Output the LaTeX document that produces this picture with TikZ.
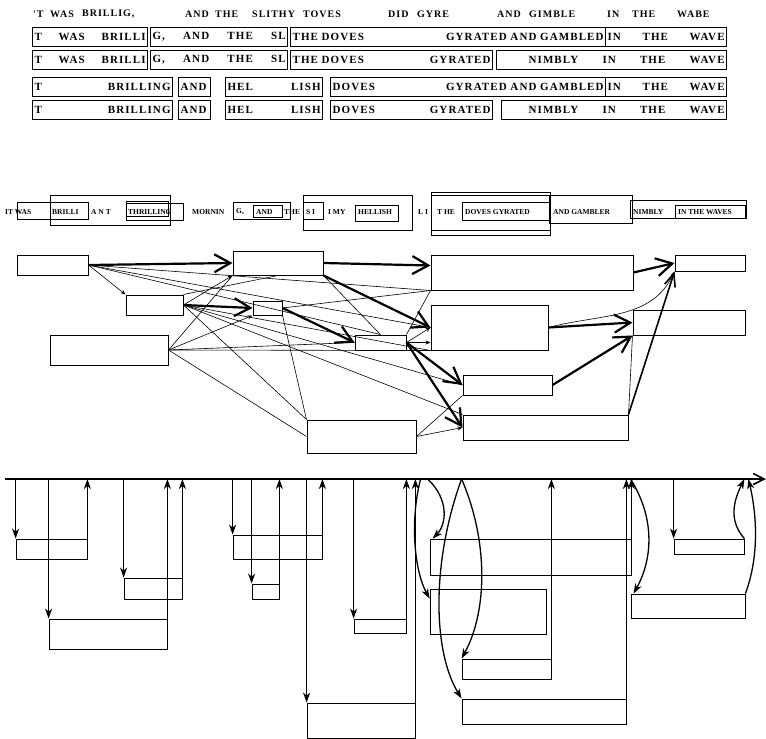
\documentclass[tikz,border=0pt]{standalone}
\usepackage{fontspec}
\setmainfont{Liberation Serif}
\newfontfamily\jabfont[LetterSpace=10]{Liberation Serif}
\usetikzlibrary{arrows.meta, fit}

\begin{document}
\begin{tikzpicture}[x=1pt, y=-1pt,
    jab/.style={font=\jabfont\bfseries\fontsize{10}{12}\selectfont, inner sep=0pt, anchor=west},
    wbox/.style={draw, line width=1.2pt, anchor=west, align=left, minimum height=19pt,
      inner xsep=2pt, inner ysep=0pt, font=\jabfont\bfseries\fontsize{11}{12}\selectfont},
    small/.style={font=\bfseries\fontsize{7.5}{8}\selectfont, inner sep=0pt, anchor=west},
    bbox/.style={draw, line width=0.8pt, inner sep=0pt},
    gbox/.style={draw, line width=1pt, inner sep=0pt},
    thk/.style={line width=2.2pt, -{Straight Barb[length=16pt, width=18pt]}},
    thn/.style={line width=0.6pt},
    thna/.style={line width=0.6pt, -{Stealth[length=5pt, width=4pt]}},
    tarr/.style={line width=1.3pt, -{Stealth[length=10pt, width=7pt, inset=3pt]}}]
    \useasboundingbox (0,0) rectangle (766,739);

    % the line and its four readings
    \foreach \x/\w [count=\i] in {33/{'T}, 50/WAS, 82/{BRILLIG,}, 185/AND, 215/THE, 252/SLITHY,
        303/TOVES, 388/DID, 417/GYRE, 497/AND, 529/GIMBLE, 607/IN, 632/THE, 677/WABE}
      \node[jab] (top\i) at (\x,14) {\w};
    \foreach \y/\a/\b/\t [count=\i] in {
        37/32/147/{T\hfill WAS\hfill BRILLI}, 37/150/287/{G,\hfill AND\hfill THE\hfill SL},
        37/290/605/{THE DOVES\hfill GYRATED AND GAMBLED}, 37/605/726/{IN\hfill THE\hfill WAVE},
        60/32/147/{T\hfill WAS\hfill BRILLI}, 60/150/287/{G,\hfill AND\hfill THE\hfill SL},
        60/290/492/{THE DOVES\hfill GYRATED}, 60/496/726/{\hspace*{30pt}NIMBLY\hfill IN\hfill THE\hfill WAVE},
        87/32/172/{T\hfill BRILLING}, 87/178/210/{AND}, 87/225/322/{HEL\hfill LISH},
        87/330/605/{DOVES\hfill GYRATED AND GAMBLED}, 87/605/726/{IN\hfill THE\hfill WAVE},
        110/32/172/{T\hfill BRILLING}, 110/178/210/{AND}, 110/225/322/{HEL\hfill LISH},
        110/330/492/{DOVES\hfill GYRATED}, 110/501/726/{\hspace*{25pt}NIMBLY\hfill IN\hfill THE\hfill WAVE}}
    {
      \pgfmathsetmacro\tw{\b-\a-4}
      \node[wbox, text width=\tw pt] (row\i) at (\a,\y) {\t};
    }

    % hypothesis band
    \foreach \a/\b/\c/\d [count=\i] in {17/202/88/219, 50/195/170/225, 126/201/168/216, 126/203/183/220,
        233/202/290/219, 253/205/282/217, 303/195/412/230, 303/202/323/219, 355/205/398/221,
        431/192/550/235, 431/195/550/230, 462/202/549/220, 549/195/632/223, 630/200/746/218, 675/205/745/218}
      \node[bbox, fit={(\a,\b) (\c,\d)}] (band\i) {};
    \foreach \x/\w [count=\i] in {5/IT WAS, 52/BRILLI, 91/A N T, 128/THRILLING, 192/MORNIN, 236/{G,},
        256/AND, 284/THE, 306/S I, 328/I MY, 358/HELLISH, 418/L I, 437/T HE, 465/DOVES GYRATED,
        553/AND GAMBLER, 633/NIMBLY, 678/IN THE WAVES}
      \node[small] (word\i) at (\x,212) {\w};

    % lattice
    \foreach \n/\a/\b/\c/\d in {g1/17/255/88/275, g2/233/251/323/275, g3/126/295/183/315,
        g4/253/301/282/315, g5/50/335/168/365, g6/355/335/406/350, g7/307/420/416/453,
        g8/431/255/633/290, g9/431/305/548/350, g10/675/255/745/271, g11/633/310/745/335,
        g12/463/375/552/395, g13/463/415/628/440}
      \node[gbox, fit={(\a,\b) (\c,\d)}] (\n) {};

    \draw[thn] (g1.east) -- (g9.west);
    \draw[thn] (g1.east) -- (g6.north);
    \draw[thn] (g1.east) -- (g8.south west);
    \draw[thna] (g1.east) -- (g3.north west);
    \draw[thna] (g3.east) -- (g2.south west);
    \draw[thn] (g3.north east) -- (g2.south);
    \draw[thn] (g3.east) -- (g7.north west);
    \draw[thn] (g3.east) -- (g9.south west);
    \draw[thn] (g3.east) -- (g12.west);
    \draw[thn] (g3.east) -- (g13.north west);
    \draw[thn] (g5.east) -- (g2.south west);
    \draw[thna] (g5.east) -- (g4.south west);
    \draw[thn] (g5.east) -- (g9.south west);
    \draw[thn] (g5.east) -- (g7.west);
    \draw[thn] (g5.east) -- (g6.west);
    \draw[thn] (g4.south east) -- (g7.north west);
    \draw[thn] (g4.east) -- (g8.south west);
    \draw[thn] (g2.south east) -- (g6.north);
    \draw[thn] (g7.east) -- (g12.south west);
    \draw[thna] (g7.east) -- (g13.west);
    \draw[thna] (g6.east) -- (g9.west);
    \draw[thna] (g6.east) -- ([yshift=8pt]g9.south west);
    \draw[thn] (g6.north east) -- (g8.south west);
    \draw[thna] (g9.east) to[out=15, in=-115] (g10.south west);
    \draw[thn] (g13.north east) -- (g11.south west);

    \draw[thk] (g1.east) -- (g2.west);
    \draw[thk] (g2.east) -- ([yshift=7pt]g8.west);
    \draw[thk] (g8.east) -- (g10.west);
    \draw[thk] (g3.east) -- (g4.west);
    \draw[thk] (g4.east) -- (g6.west);
    \draw[thk] (g2.south east) -- (g9.west);
    \draw[thk] (g9.east) -- (g11.west);
    \draw[thk] (g12.east) -- (g11.south west);
    \draw[thk] (g6.east) -- (g12.west);
    \draw[thk] (g6.east) -- (g13.west);
    \draw[line width=1.6pt, -{Straight Barb[length=13pt, width=11pt]}] (g13.north east) -- (g10.south west);

    % time line
    \coordinate (tl0) at (5,479);
    \coordinate (tl1) at (766,479);
    \draw[line width=1.6pt, -{Straight Barb[length=11pt, width=11pt]}] (tl0) -- (tl1);
    \foreach \n/\a/\b/\c/\d in {t1/16/539/87/559, t2/49/619/167/649, t3/124/578/182/599,
        t4/233/535/322/559, t5/252/584/279/599, t6/354/619/406/633, t7/307/703/415/738,
        t8/430/539/631/575, t9/430/589/546/634, t10/462/659/551/679, t11/462/699/626/724,
        t12/631/594/745/618, t13/674/539/744/554}
      \node[bbox, fit={(\a,\b) (\c,\d)}] (\n) {};
    \foreach \n in {t1, t2, t3, t4, t5, t6, t7, t13}
      \draw[tarr] (\n.north west |- tl0) -- (\n.north west);
    \foreach \n in {t1, t2, t3, t4, t5, t6, t7, t8, t10, t11}
      \draw[tarr] (\n.south east) -- (\n.south east |- tl0);
    \draw[tarr] ([xshift=-2pt]t8.north west |- tl0) .. controls (450,500) and (446,525) .. ([xshift=3pt]t8.north west);
    \draw[tarr] ([xshift=-9pt]t9.north west |- tl0) .. controls (410,520) and (414,570) .. ([yshift=-10pt]t9.north west);
    \draw[tarr] (t10.north west |- tl0) .. controls (488,540) and (488,610) .. (t10.north west);
    \draw[tarr] (t10.north west |- tl0) .. controls (432,560) and (432,650) .. (t11.north west);
    \draw[tarr] (t12.north west |- tl0) .. controls (656,520) and (652,560) .. ([xshift=3pt]t12.north west);
    \draw[tarr] (t12.north east) .. controls (758,560) and (758,520) .. ([xshift=3pt]t12.north east |- tl0);
    \draw[tarr] (t13.north east) .. controls (728,520) and (734,500) .. (t13.north east |- tl0);
\end{tikzpicture}
\end{document}
